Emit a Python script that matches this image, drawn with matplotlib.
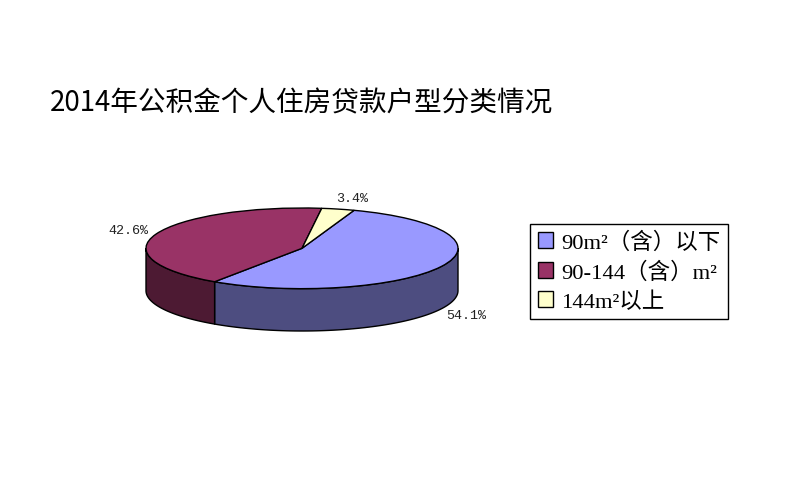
import numpy as np
import matplotlib
matplotlib.use('Agg')
import matplotlib.pyplot as plt
from matplotlib.patches import Patch

W, H = 791, 485

labels = ['90m²（含）以下', '90-144（含）m²', '144m²以上']
values = [54.1, 42.6, 3.4]
pct_labels = ['54.1%', '42.6%', '3.4%']
top_colors = ['#9999FF', '#993366', '#FFFFCC']
side_colors = ['#4D4D80', '#4D1A33', '#808066']

START = 70.5
DEPTH = 42 / 40.0  # wall height, in pie radii

fig = plt.figure(figsize=(W / 100, H / 100), dpi=100, facecolor='white')

# axes box = pie ellipse plus the wall below it
ax = fig.add_axes([146 / W, 1 - 332 / H, 312 / W, 123 / H])
ax.pie(values, colors=top_colors, startangle=START, counterclock=False,
       wedgeprops={'edgecolor': 'black', 'linewidth': 1, 'zorder': 3, 'clip_on': False})
ax.set_aspect('auto')
ax.set_xlim(-1, 1)
ax.set_ylim(-1 - DEPTH, 1)
ax.axis('off')

# walls: only the front half of each slice shows
a = START
for v, c in zip(values, side_colors):
    sweep = v / sum(values) * 360
    t1, t0 = a, a - sweep
    a = t0
    # front half is 180..360 deg, i.e. -180..0
    lo = max(t0, -180)
    hi = min(t1, 0)
    if hi <= lo:
        continue
    t = np.radians(np.linspace(lo, hi, 80))
    x = np.cos(t)
    y = np.sin(t)
    ax.fill(np.r_[x, x[::-1]], np.r_[y, y[::-1] - DEPTH], facecolor=c,
            edgecolor='black', linewidth=1, clip_on=False, zorder=2)

# percent labels
mono = ['Liberation Mono', 'DejaVu Sans']
pct_pos = [(466, 316), (128, 231), (352, 199)]
for s, (px, py) in zip(pct_labels, pct_pos):
    fig.text(px / W, 1 - py / H, s, ha='center', va='center', fontsize=9.6,
             family=mono, color='#222222')

fig.text(50 / W, 1 - 103 / H, '2014年公积金个人住房贷款户型分类情况', ha='left', va='center',
         fontsize=19.9, family=['Noto Sans CJK SC', 'DejaVu Sans'], color='black')

handles = [Patch(facecolor=c, edgecolor='black', linewidth=1) for c in top_colors]
leg = fig.legend(handles, labels, loc='upper left', bbox_to_anchor=(530 / W, 1 - 225 / H),
                 frameon=True, fancybox=False, framealpha=1, edgecolor='black',
                 prop={'family': ['Liberation Serif', 'Noto Sans CJK SC'], 'size': 16.2},
                 handlelength=0.68, handleheight=0.68, handletextpad=0.38,
                 labelspacing=0.37, borderpad=0.34, borderaxespad=0)
leg.get_frame().set_linewidth(1)

fig.savefig('out.png', dpi=100)
